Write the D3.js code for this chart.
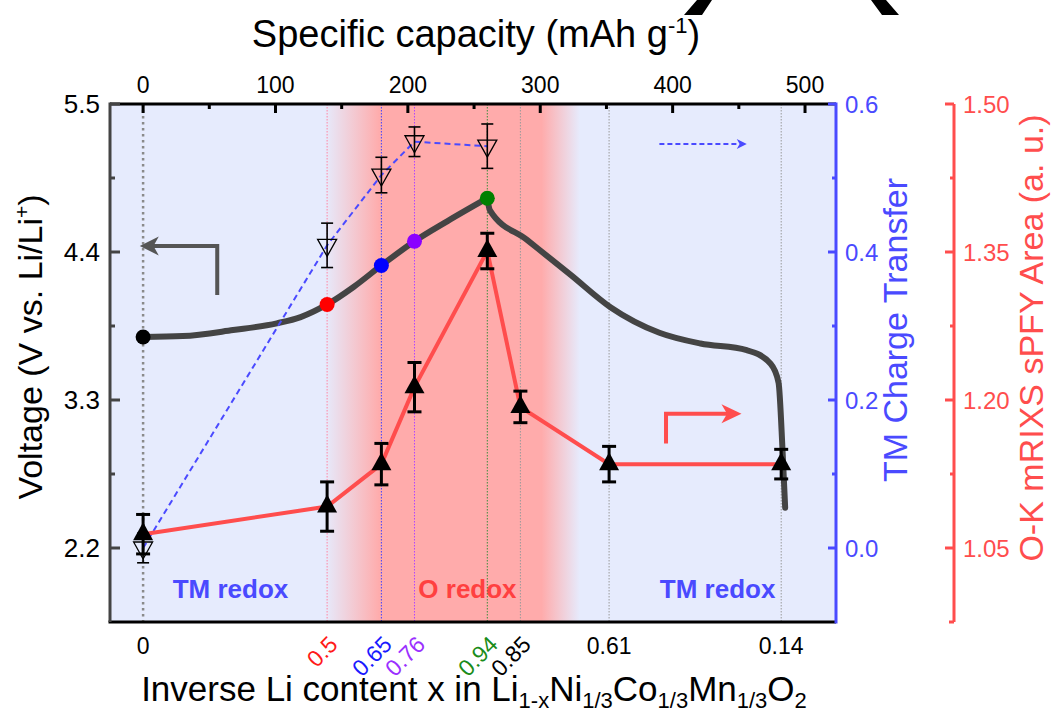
<!DOCTYPE html>
<html>
<head>
<meta charset="utf-8">
<script src="https://cdn.jsdelivr.net/npm/d3@7"></script>
<style>
    body { margin: 0; background: #fff; }
    text { font-family: "Liberation Sans", Arial, sans-serif; }
</style>
</head>
<body>
<svg id="chart" width="1051" height="715"></svg>
<script>
// Données (capacité en mAh/g)
const capacityTicks = [0, 100, 200, 300, 400, 500];
const capacityMinor = [50, 150, 250, 350, 450];
const voltageTicks = [2.2, 3.3, 4.4, 5.5];
const voltageMinor = [2.75, 3.85, 4.95];
const tmTicks = [0.0, 0.2, 0.4, 0.6];
const tmMinor = [0.1, 0.3, 0.5];
const okTicks = [1.05, 1.20, 1.35, 1.50];
const okMinor = [1.125, 1.275, 1.425];

// Points d'échantillonnage (axe du bas)
const xLabels = ["0", "0.5", "0.65", "0.76", "0.94", "0.85", "0.61", "0.14"];
const xLabelCap = [0, 139, 180, 205, 260, 285, 352, 482];
const xLabelColors = ["#000", "#ff1a1a", "#1a1aff", "#9b30ff", "#1a8c1a", "#000", "#000", "#000"];
const xLabelRotated = [false, true, true, true, true, true, false, false];
const guideColors = ["#8a8a8a", "#ff86a6", "#4040ff", "#b045ff", "#3c8c3c", "#9a9a9a", "#9a9a9a", "#9a9a9a"];

// Courbe de tension (charge puis décharge)
const chargeCap = [0, 30, 68, 101, 119, 139, 159, 180, 205, 230, 260];
const chargeV = [3.768, 3.775, 3.82, 3.87, 3.916, 4.01, 4.14, 4.30, 4.48, 4.63, 4.80];
const dischargeCap = [260, 262, 290, 323, 353, 390, 421, 456, 474, 480, 483, 485];
const dischargeV = [4.80, 4.71, 4.49, 4.23, 3.99, 3.80, 3.72, 3.67, 3.57, 3.43, 2.93, 2.50];

const dotCap = [0, 139, 180, 205, 260];
const dotV = [3.768, 4.01, 4.30, 4.48, 4.80];
const dotColors = ["#000000", "#ff0000", "#0000ff", "#8b00ff", "#008000"];

// TM charge transfer
const tmCap = [0, 139, 180, 205, 260];
const tmValues = [0.0, 0.409, 0.504, 0.549, 0.543];
const tmErr = [0.02, 0.03, 0.024, 0.02, 0.03];

// O-K mRIXS sPFY area
const okCap = [0, 139, 180, 205, 260, 285, 352, 482];
const okValues = [1.064, 1.092, 1.135, 1.213, 1.351, 1.193, 1.135, 1.135];
const okErr = [0.02, 0.025, 0.021, 0.025, 0.018, 0.016, 0.018, 0.015];

// Zone "O redox" (début fondu, plein, fin plein, fin fondu)
const oBand = [137, 179, 301, 330];

const svg = d3.select("#chart");
const plotL = 110, plotR = 836, plotT = 104, plotB = 622, redAxisX = 954;

const x = d3.scaleLinear().domain([-25, 523.4]).range([plotL, plotR]);
const yV = d3.scaleLinear().domain([1.65, 5.5]).range([plotB, plotT]);
const yTM = d3.scaleLinear().domain([-0.1, 0.6]).range([plotB, plotT]);
const yOK = d3.scaleLinear().domain([0.975, 1.5]).range([plotB, plotT]);

const BLUE = "#4a4aff", RED = "#ff4d4d", GREY = "#444";

// Fond dégradé
const defs = svg.append("defs");
const grad = defs.append("linearGradient")
    .attr("id", "bg")
    .attr("gradientUnits", "userSpaceOnUse")
    .attr("x1", plotL).attr("x2", plotR).attr("y1", 0).attr("y2", 0);
const off = c => (x(c) - plotL) / (plotR - plotL);
[["#e6ebfd", 0], ["#e6ebfd", off(oBand[0])], ["#ffabab", off(oBand[1])],
 ["#ffabab", off(oBand[2])], ["#e6ebfd", off(oBand[3])], ["#e6ebfd", 1]]
    .forEach(([c, o]) => grad.append("stop").attr("offset", o).attr("stop-color", c));

svg.append("rect")
    .attr("x", plotL).attr("y", plotT)
    .attr("width", plotR - plotL).attr("height", plotB - plotT)
    .attr("fill", "url(#bg)");

// Bas d'une lettre de panneau voisine, coupée au bord supérieur
svg.append("path")
    .attr("d", "M697,0L712,0L702,15L684,15Z M871,0L886,0L899,15L882,15Z")
    .attr("fill", "#000");

// Lignes verticales pointillées
svg.selectAll(".guide")
    .data(xLabelCap)
    .enter().append("line")
    .attr("class", "guide")
    .attr("x1", d => x(d)).attr("x2", d => x(d))
    .attr("y1", plotT).attr("y2", plotB)
    .attr("stroke", (d, i) => guideColors[i])
    .attr("stroke-width", (d, i) => i === 0 ? 2.5 : 1)
    .attr("stroke-dasharray", (d, i) => i === 0 ? "2.5,3.5" : "1.5,1.5");

// Textes des zones
const zoneText = [
    { c: 66, t: "TM redox", col: BLUE },
    { c: 245, t: "O redox", col: "#ff4040" },
    { c: 434, t: "TM redox", col: BLUE }
];
svg.selectAll(".zone")
    .data(zoneText)
    .enter().append("text")
    .attr("x", d => x(d.c)).attr("y", yV(1.827))
    .attr("text-anchor", "middle")
    .attr("fill", d => d.col)
    .style("font-size", "26px")
    .style("font-weight", "bold")
    .text(d => d.t);

// Courbe de tension
const vLine = d3.line()
    .x(d => x(d[0])).y(d => yV(d[1]))
    .curve(d3.curveMonotoneX);
[[chargeCap, chargeV], [dischargeCap, dischargeV]].forEach(([cs, vs]) => {
    svg.append("path")
        .attr("d", vLine(cs.map((c, i) => [c, vs[i]])))
        .attr("fill", "none")
        .attr("stroke", GREY)
        .attr("stroke-width", 6)
        .attr("stroke-linecap", "round")
        .attr("stroke-linejoin", "round");
});

svg.selectAll(".vdot")
    .data(dotCap)
    .enter().append("circle")
    .attr("cx", d => x(d))
    .attr("cy", (d, i) => yV(dotV[i]))
    .attr("r", 7.5)
    .attr("fill", (d, i) => dotColors[i]);

// TM : ligne pointillée bleue
svg.append("path")
    .attr("d", d3.line().x((d, i) => x(tmCap[i])).y(d => yTM(d))(tmValues))
    .attr("fill", "none")
    .attr("stroke", BLUE)
    .attr("stroke-width", 2)
    .attr("stroke-dasharray", "6,4");

// O-K : ligne rouge
svg.append("path")
    .attr("d", d3.line().x((d, i) => x(okCap[i])).y(d => yOK(d))(okValues))
    .attr("fill", "none")
    .attr("stroke", RED)
    .attr("stroke-width", 4);

// Barres d'erreur
function errorBars(caps, vals, errs, scale, width, cap) {
    const g = svg.append("g").attr("stroke", "#000").attr("stroke-width", width);
    caps.forEach((c, i) => {
        const cx = x(c), y1 = scale(vals[i] + errs[i]), y2 = scale(vals[i] - errs[i]);
        g.append("line").attr("x1", cx).attr("x2", cx).attr("y1", y1).attr("y2", y2);
        g.append("line").attr("x1", cx - cap).attr("x2", cx + cap).attr("y1", y1).attr("y2", y1);
        g.append("line").attr("x1", cx - cap).attr("x2", cx + cap).attr("y1", y2).attr("y2", y2);
    });
}
errorBars(tmCap, tmValues, tmErr, yTM, 1.6, 6);
errorBars(okCap, okValues, okErr, yOK, 3, 7);

// Triangles ouverts (TM)
svg.selectAll(".tri-down")
    .data(tmValues)
    .enter().append("path")
    .attr("d", (d, i) => {
        const cx = x(tmCap[i]), cy = yTM(d);
        return `M${cx - 9.5},${cy - 6}L${cx + 9.5},${cy - 6}L${cx},${cy + 11}Z`;
    })
    .attr("fill", "none")
    .attr("stroke", "#000")
    .attr("stroke-width", 1.3);

// Triangles pleins (O-K)
svg.selectAll(".tri-up")
    .data(okValues)
    .enter().append("path")
    .attr("d", (d, i) => {
        const cx = x(okCap[i]), cy = yOK(d);
        return `M${cx - 10},${cy + 6}L${cx + 10},${cy + 6}L${cx},${cy - 12}Z`;
    })
    .attr("fill", "#000");

// Flèches indiquant les axes
function arrowHead(tx, ty, dir, len, half, color) {
    const b = tx - dir * len, n = tx - dir * len * 0.72;
    svg.append("path")
        .attr("d", `M${tx},${ty}L${b},${ty - half}L${n},${ty}L${b},${ty + half}Z`)
        .attr("fill", color);
}
// flèche grise (tension, axe gauche)
svg.append("path")
    .attr("d", `M${x(56)},${yV(4.08)}V${yV(4.444)}H${x(2)}`)
    .attr("fill", "none").attr("stroke", "#555").attr("stroke-width", 4);
arrowHead(x(-2.5), yV(4.444), -1, 19, 9.5, "#555");
// flèche rouge (axe O-K)
svg.append("path")
    .attr("d", `M${x(395)},${yOK(1.156)}V${yOK(1.186)}H${x(445)}`)
    .attr("fill", "none").attr("stroke", RED).attr("stroke-width", 4);
arrowHead(x(452), yOK(1.186), 1, 20, 9.5, RED);
// flèche bleue pointillée (axe TM)
svg.append("line")
    .attr("x1", x(390)).attr("x2", x(450))
    .attr("y1", yTM(0.546)).attr("y2", yTM(0.546))
    .attr("stroke", BLUE).attr("stroke-width", 2).attr("stroke-dasharray", "5,3");
arrowHead(x(456), yTM(0.546), 1, 10, 5, BLUE);

// Cadre
svg.append("line").attr("x1", plotL).attr("x2", plotR).attr("y1", plotT).attr("y2", plotT)
    .attr("stroke", "#000").attr("stroke-width", 3);
svg.append("line").attr("x1", plotL - 1.5).attr("x2", plotR).attr("y1", plotB).attr("y2", plotB)
    .attr("stroke", "#000").attr("stroke-width", 3);
svg.append("line").attr("x1", plotL).attr("x2", plotL).attr("y1", plotT - 1.5).attr("y2", plotB)
    .attr("stroke", GREY).attr("stroke-width", 3);
svg.append("line").attr("x1", plotR).attr("x2", plotR).attr("y1", plotT - 1.5).attr("y2", plotB + 1.5)
    .attr("stroke", BLUE).attr("stroke-width", 3);

// Axe du haut (capacité)
const topAxis = svg.append("g");
topAxis.selectAll(".tmaj").data(capacityTicks).enter().append("line")
    .attr("x1", d => x(d)).attr("x2", d => x(d))
    .attr("y1", plotT).attr("y2", plotT + 9)
    .attr("stroke", "#000").attr("stroke-width", 3);
topAxis.selectAll(".tmin").data(capacityMinor).enter().append("line")
    .attr("x1", d => x(d)).attr("x2", d => x(d))
    .attr("y1", plotT).attr("y2", plotT + 5)
    .attr("stroke", "#000").attr("stroke-width", 3);
topAxis.selectAll("text").data(capacityTicks).enter().append("text")
    .attr("x", d => x(d)).attr("y", 93)
    .attr("text-anchor", "middle")
    .style("font-size", "23px")
    .text(d => d);

// Axe gauche (tension)
const leftAxis = svg.append("g");
leftAxis.selectAll(".vmaj").data(voltageTicks).enter().append("line")
    .attr("x1", plotL).attr("x2", plotL + 10)
    .attr("y1", d => yV(d)).attr("y2", d => yV(d))
    .attr("stroke", GREY).attr("stroke-width", 3);
leftAxis.selectAll(".vmin").data(voltageMinor).enter().append("line")
    .attr("x1", plotL).attr("x2", plotL + 5)
    .attr("y1", d => yV(d)).attr("y2", d => yV(d))
    .attr("stroke", GREY).attr("stroke-width", 3);
leftAxis.selectAll("text").data(voltageTicks).enter().append("text")
    .attr("x", 100).attr("y", d => yV(d))
    .attr("dy", "0.36em")
    .attr("text-anchor", "end")
    .style("font-size", "26px")
    .text(d => d.toFixed(1));

// Axe bleu (TM)
const tmAxis = svg.append("g");
tmAxis.selectAll(".bmaj").data(tmTicks).enter().append("line")
    .attr("x1", plotR).attr("x2", plotR - 8)
    .attr("y1", d => yTM(d)).attr("y2", d => yTM(d))
    .attr("stroke", BLUE).attr("stroke-width", 3);
tmAxis.selectAll(".bmin").data(tmMinor).enter().append("line")
    .attr("x1", plotR).attr("x2", plotR - 4)
    .attr("y1", d => yTM(d)).attr("y2", d => yTM(d))
    .attr("stroke", BLUE).attr("stroke-width", 3);
tmAxis.selectAll("text").data(tmTicks).enter().append("text")
    .attr("x", 845).attr("y", d => yTM(d))
    .attr("dy", "0.36em")
    .attr("fill", BLUE)
    .style("font-size", "24px")
    .text(d => d.toFixed(1));

// Axe rouge (O-K)
const okAxis = svg.append("g");
okAxis.append("line")
    .attr("x1", redAxisX).attr("x2", redAxisX).attr("y1", plotT).attr("y2", plotB)
    .attr("stroke", RED).attr("stroke-width", 3);
okAxis.selectAll(".rmaj").data(okTicks.concat([0.975])).enter().append("line")
    .attr("x1", redAxisX)
    .attr("x2", d => d === 0.975 ? redAxisX - 5 : redAxisX - 9)
    .attr("y1", d => yOK(d)).attr("y2", d => yOK(d))
    .attr("stroke", RED).attr("stroke-width", 3);
okAxis.selectAll(".rmin").data(okMinor).enter().append("line")
    .attr("x1", redAxisX).attr("x2", redAxisX - 4)
    .attr("y1", d => yOK(d)).attr("y2", d => yOK(d))
    .attr("stroke", RED).attr("stroke-width", 3);
okAxis.selectAll("text").data(okTicks).enter().append("text")
    .attr("x", 963).attr("y", d => yOK(d))
    .attr("dy", "0.36em")
    .attr("fill", RED)
    .style("font-size", "24px")
    .text(d => d.toFixed(2));

// Étiquettes de l'axe du bas
svg.selectAll(".xlab")
    .data(xLabels)
    .enter().append("text")
    .attr("class", "xlab")
    .attr("fill", (d, i) => xLabelColors[i])
    .style("font-size", "23px")
    .attr("text-anchor", (d, i) => xLabelRotated[i] ? "end" : "middle")
    .attr("transform", (d, i) => xLabelRotated[i]
        ? `translate(${x(xLabelCap[i]) + 12},${646}) rotate(-45)`
        : `translate(${x(xLabelCap[i])},${654})`)
    .text(d => d);

// Titres des axes
svg.append("text")
    .attr("x", 476).attr("y", 47)
    .attr("text-anchor", "middle")
    .style("font-size", "38px")
    .call(t => {
        t.append("tspan").text("Specific capacity (mAh g");
        t.append("tspan").attr("dy", -14).style("font-size", "22px").text("-1");
        t.append("tspan").attr("dy", 14).text(")");
    });

svg.append("text")
    .attr("transform", "translate(42,347) rotate(-90)")
    .attr("text-anchor", "middle")
    .style("font-size", "34px")
    .call(t => {
        t.append("tspan").text("Voltage (V vs. Li/Li");
        t.append("tspan").attr("dy", -13).style("font-size", "21px").text("+");
        t.append("tspan").attr("dy", 13).text(")");
    });

svg.append("text")
    .attr("transform", "translate(907,330) rotate(-90)")
    .attr("text-anchor", "middle")
    .attr("fill", BLUE)
    .style("font-size", "34px")
    .text("TM Charge Transfer");

svg.append("text")
    .attr("transform", "translate(1043,338) rotate(-90)")
    .attr("text-anchor", "middle")
    .attr("fill", RED)
    .style("font-size", "34px")
    .text("O-K mRIXS sPFY Area (a. u.)");

const subParts = [
    ["Inverse Li content x in Li", false], ["1-x", true], ["Ni", false], ["1/3", true],
    ["Co", false], ["1/3", true], ["Mn", false], ["1/3", true], ["O", false], ["2", true]
];
svg.append("text")
    .attr("x", 474).attr("y", 701)
    .attr("text-anchor", "middle")
    .style("font-size", "35px")
    .call(t => {
        let down = false;
        subParts.forEach(([s, sub]) => {
            const ts = t.append("tspan").text(s);
            if (sub && !down) { ts.attr("dy", 7).style("font-size", "22px"); down = true; }
            else if (sub) { ts.style("font-size", "22px"); }
            else if (down) { ts.attr("dy", -7); down = false; }
        });
    });
</script>
</body>
</html>
